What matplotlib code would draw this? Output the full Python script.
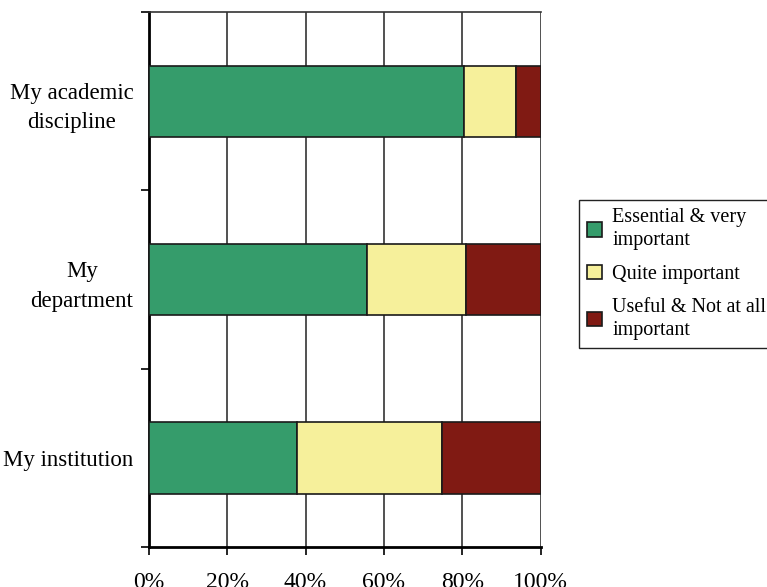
import matplotlib as mpl
import matplotlib.pyplot as plt
import numpy as np

mpl.rcParams['font.family'] = 'Liberation Serif'
mpl.rcParams['font.size'] = 14

# dados (percentagens)
categorias = ['My academic\ndiscipline', 'My\ndepartment', 'My institution']
essencial = np.array([80.5, 55.7, 37.8])
bastante = np.array([13.1, 25.2, 36.9])
util = np.array([6.4, 19.1, 25.3])
legendas = ['Essential & very\nimportant', 'Quite important',
            'Useful & Not at all\nimportant']
cores = ['#359c6b', '#f6f09b', '#801a13']

fig = plt.figure(figsize=(7.67, 5.87), dpi=100)
ax = fig.add_axes([0.1939, 0.0676, 0.5111, 0.912])

y = np.arange(len(categorias))
esq = np.zeros(len(categorias))
for vals, cor, lab in zip([essencial, bastante, util], cores, legendas):
    ax.barh(y, vals, left=esq, height=0.4, color=cor, edgecolor='#1a1a1a',
            linewidth=1.2, label=lab, zorder=3)
    esq = esq + vals

ax.set_xlim(0, 100)
ax.set_ylim(2.5, -0.5)
ax.set_xticks(np.arange(0, 101, 20))
ax.set_xticklabels([f'{v}%' for v in range(0, 101, 20)])
ax.xaxis.grid(True, color='#333333', linewidth=1.2, zorder=0)

# ticks nas divisões, rótulos no centro das categorias
ax.set_yticks([-0.5, 0.5, 1.5, 2.5])
ax.set_yticklabels([])
ax.set_yticks(y, minor=True)
ax.set_yticklabels(categorias, minor=True, multialignment='center')
for t in ax.get_yticklabels(minor=True):
    t.set_linespacing(1.55)
ax.tick_params(axis='y', which='major', length=6, width=1.2, direction='out')
ax.tick_params(axis='y', which='minor', length=0, pad=11, labelsize=16.5)
ax.tick_params(axis='x', length=6, width=1.2, pad=12, labelsize=17)

ax.spines['left'].set_linewidth(2)
ax.spines['bottom'].set_linewidth(2)
ax.spines['right'].set_visible(False)
ax.spines['top'].set_color('#333333')
ax.spines['top'].set_linewidth(1.2)

leg = fig.legend(loc='upper left', bbox_to_anchor=(0.755, 0.659),
                 borderaxespad=0, fancybox=False, edgecolor='#222222',
                 framealpha=1, handlelength=0.75, handleheight=0.75,
                 handletextpad=0.5, labelspacing=0.7, borderpad=0.4,
                 fontsize=14.5)
leg.get_frame().set_linewidth(1)
for t in leg.get_texts():
    t.set_linespacing(1.3)

plt.savefig('out.png', dpi=100)
plt.close()
